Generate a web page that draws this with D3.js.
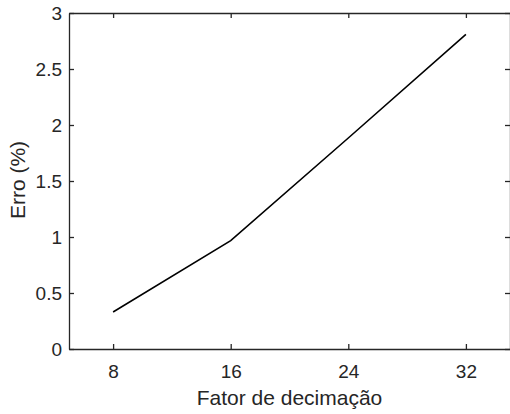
<!DOCTYPE html>
<html><head><meta charset="utf-8">
<script src="https://cdn.jsdelivr.net/npm/d3@7"></script>
<style>body{margin:0;background:#fff}svg{display:block}text{font-family:"Liberation Sans",Arial,sans-serif;fill:#262626}</style>
</head><body>
<svg id="c" width="510" height="414"></svg>
<script>
const factors = [8, 16, 24, 32];
const errors = [0.33, 0.967, 1.884, 2.81];
const xTicks = [8, 16, 24, 32];
const yTicks = [0, 0.5, 1, 1.5, 2, 2.5, 3];
const xLabel = "Fator de decimação";
const yLabel = "Erro (%)";

const m = {l: 69, t: 13, r: 510, b: 349};
const svg = d3.select("#c");
const x = d3.scaleLinear().domain([5, 35]).range([m.l, m.r]);
const y = d3.scaleLinear().domain([0, 3]).range([m.b, m.t]);
const col = "#262626";

function style(g){
  g.attr("font-size", null).attr("font-family", null);
  g.select(".domain").attr("stroke", col).attr("stroke-width", 1.3);
  g.selectAll(".tick line").attr("stroke", col).attr("stroke-width", 1.3);
  g.selectAll("text").style("font-size", "19px").style("fill", col);
}
svg.append("g").attr("transform", `translate(0,${m.b})`)
  .call(d3.axisBottom(x).tickValues(xTicks).tickSizeInner(-5).tickSizeOuter(0).tickPadding(16).tickFormat(d3.format("d")))
  .call(style);
svg.append("g").attr("transform", `translate(0,${m.t})`)
  .call(d3.axisTop(x).tickValues(xTicks).tickSizeInner(-5).tickSizeOuter(0).tickFormat(""))
  .call(style);
svg.append("g").attr("transform", `translate(${m.l},0)`)
  .call(d3.axisLeft(y).tickValues(yTicks).tickSizeInner(-5).tickSizeOuter(0).tickPadding(7).tickFormat(d => d3.format("")(d)))
  .call(style);
svg.append("g").attr("transform", `translate(${m.r},0)`)
  .call(d3.axisRight(y).tickValues(yTicks).tickSizeInner(-5).tickSizeOuter(0).tickFormat(""))
  .call(style);

const line = d3.line().x((d,i) => x(factors[i])).y(d => y(d));
svg.append("path").datum(errors).attr("d", line)
  .attr("fill", "none").attr("stroke", "#000").attr("stroke-width", 1.6);

svg.append("text").attr("x", (m.l + m.r)/2).attr("y", 405).attr("text-anchor", "middle")
  .style("font-size", "21px").text(xLabel);
svg.append("text").attr("transform", `translate(25,180) rotate(-90)`)
  .attr("text-anchor", "middle").style("font-size", "21px").text(yLabel);
</script>
</body></html>
